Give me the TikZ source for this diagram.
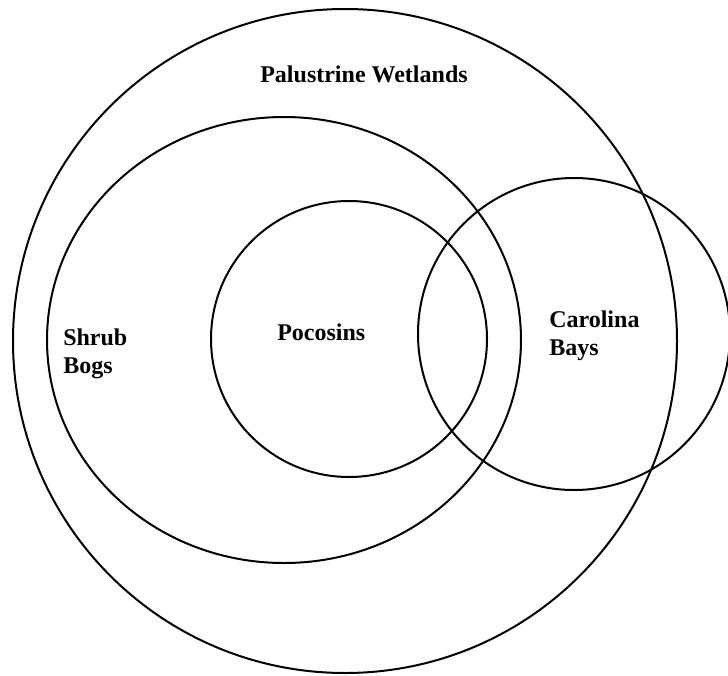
\documentclass[tikz,border=0pt]{standalone}
\usepackage{fontspec}
\setmainfont{Liberation Serif}
\usetikzlibrary{shapes.geometric}
\tikzset{
  ring/.style={draw,circle,inner sep=0pt,line width=1.5pt},
  oval/.style={draw,ellipse,inner sep=0pt,line width=1.5pt},
  tag/.style={inner sep=0pt,anchor=base west,align=left,
    font=\fontsize{18}{21}\selectfont\bfseries}}

\begin{document}
\begin{tikzpicture}[x=.75pt,y=-.75pt]
\useasboundingbox (0,0) rectangle (728,675);
% sets, one inside the other, and the bays across them
\node[ring,minimum size=498pt] (palustrine) at (345,341) {};
\node[oval,minimum width=355.5pt,minimum height=334.5pt] (shrub) at (284,340) {};
\node[ring,minimum size=207pt] (pocosins) at (349,339) {};
\node[ring,minimum size=234pt] (carolina) at (574,334) {};
% labels (base of a two-line tag is its last line)
\node[tag,anchor=base] (palname) at (364,82) {Palustrine Wetlands};
\node[tag] (shrubname) at (63,373) {Shrub\\Bogs};
\node[tag] (pocname) at (277,340) {Pocosins};
\node[tag] (carname) at (549,355) {Carolina\\Bays};
\end{tikzpicture}
\end{document}
